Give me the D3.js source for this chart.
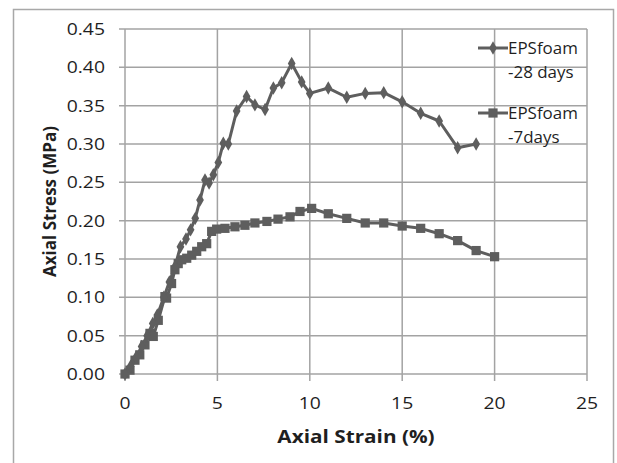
<!DOCTYPE html>
<head>
    <meta charset="utf-8">
    <style>
        body{
            margin:0;
            background:#fff;
        }
        text {
            font-family: "Open Sans", sans-serif;
            fill: #1f1f1f;
        }
    </style>
</head>
<body>
<svg width="617" height="463"></svg>
<script src="https://d3js.org/d3.v7.min.js"></script>
<script>

// strain (%) and stress (MPa)
var strain28 = [0, 0.3, 0.6, 0.9, 1.2, 1.5, 1.75, 2.1, 2.4, 2.7, 3.0, 3.3, 3.55, 3.8, 4.06, 4.33, 4.55, 4.78, 5.05, 5.32, 5.59, 6.04, 6.58, 7.03, 7.58, 8.03, 8.48, 9.02, 9.56, 10, 11, 12, 13, 14, 15, 16, 17, 18, 19];
var stress28 = [0, 0.01, 0.022, 0.036, 0.05, 0.066, 0.077, 0.1, 0.12, 0.14, 0.166, 0.176, 0.188, 0.203, 0.227, 0.253, 0.249, 0.26, 0.276, 0.301, 0.300, 0.343, 0.362, 0.351, 0.345, 0.373, 0.380, 0.405, 0.381, 0.366, 0.373, 0.361, 0.366, 0.367, 0.355, 0.340, 0.330, 0.295, 0.300];

var strain7 = [0, 0.27, 0.54, 0.8, 1.08, 1.35, 1.53, 1.8, 2.16, 2.25, 2.52, 2.7, 2.88, 3.07, 3.34, 3.61, 3.88, 4.15, 4.42, 4.69, 4.96, 5.41, 5.95, 6.49, 7.03, 7.68, 8.28, 8.93, 9.47, 10.1, 11, 12, 13, 14, 15, 16, 17, 18, 19, 20];
var stress7 = [0, 0.005, 0.018, 0.025, 0.038, 0.053, 0.049, 0.07, 0.101, 0.099, 0.118, 0.136, 0.144, 0.149, 0.151, 0.155, 0.160, 0.166, 0.170, 0.186, 0.189, 0.190, 0.192, 0.194, 0.197, 0.199, 0.202, 0.205, 0.212, 0.216, 0.209, 0.203, 0.197, 0.197, 0.193, 0.190, 0.183, 0.174, 0.161, 0.153];

var xTicks = [0, 5, 10, 15, 20, 25];
var yTicks = [0, 0.05, 0.10, 0.15, 0.20, 0.25, 0.30, 0.35, 0.40, 0.45];
var seriesNames = [["EPSfoam", "-28 days"], ["EPSfoam", "-7days"]];

var svg = d3.select("svg"),
    grey = "#a3a3a3",
    ink = "#5e5e5e";

// frame round the whole chart
svg.append("rect")
    .attr("x", 13.5).attr("y", 9.5)
    .attr("width", 600).attr("height", 470)
    .attr("fill", "#fff")
    .attr("stroke", "#a8a8a8")
    .attr("stroke-width", 1.5);

var x = d3.scaleLinear().domain([0, 25]).range([125, 587]);
var y = d3.scaleLinear().domain([0, 0.45]).range([374, 29]);

// the source picture is stretched sideways, so text gets a wider scale
function place(px, py, sx) {
  return "translate(" + px + "," + py + ")scale(" + sx + ",1)";
}

// grid
var grid = svg.append("g").attr("stroke", grey).attr("stroke-width", 1.5);
grid.selectAll(".h").data(yTicks).enter().append("line")
    .attr("x1", 119).attr("x2", x(25))
    .attr("y1", y).attr("y2", y);
grid.selectAll(".v").data(xTicks).enter().append("line")
    .attr("x1", x).attr("x2", x)
    .attr("y1", y(0.45)).attr("y2", 381);

// tick labels
svg.append("g").selectAll("text").data(yTicks).enter().append("text")
    .attr("transform", function(d) { return place(105, y(d), 1.14); })
    .attr("dy", "0.36em")
    .attr("text-anchor", "end")
    .attr("font-size", 17)
    .text(d3.format(".2f"));

svg.append("g").selectAll("text").data(xTicks).enter().append("text")
    .attr("transform", function(d) { return place(x(d), 409, 1.14); })
    .attr("text-anchor", "middle")
    .attr("font-size", 17)
    .text(function(d) { return d; });

// axis titles
svg.append("text")
    .attr("transform", place((x(0) + x(25)) / 2, 443, 1.22))
    .attr("text-anchor", "middle")
    .attr("font-size", 17)
    .attr("font-weight", "bold")
    .text("Axial Strain (%)");

svg.append("text")
    .attr("transform", "translate(56," + (y(0) + y(0.45)) / 2 + ")rotate(-90)")
    .attr("text-anchor", "middle")
    .attr("font-size", 17)
    .attr("font-weight", "bold")
    .text("Axial Stress (MPa)");

var line = d3.line()
    .x(function(d) { return x(d[0]); })
    .y(function(d) { return y(d[1]); });

var data28 = d3.zip(strain28, stress28),
    data7 = d3.zip(strain7, stress7);

var diamond = d3.symbol().type(d3.symbolDiamond).size(52),
    square = d3.symbol().type(d3.symbolSquare).size(85);

function drawSeries(data, sym) {
  var g = svg.append("g");
  g.append("path")
      .attr("d", line(data))
      .attr("fill", "none")
      .attr("stroke", ink)
      .attr("stroke-width", 3)
      .attr("stroke-linejoin", "round");
  g.selectAll("path.m").data(data).enter().append("path")
      .attr("class", "m")
      .attr("transform", function(d) { return "translate(" + x(d[0]) + "," + y(d[1]) + ")"; })
      .attr("d", sym)
      .attr("fill", ink);
}

drawSeries(data7, square);
drawSeries(data28, diamond);

// legend
var legend = svg.append("g").selectAll("g")
    .data(seriesNames)
    .enter().append("g")
      .attr("transform", function(d, i) { return "translate(0," + (48 + i * 65) + ")"; });

legend.append("line")
    .attr("x1", 478).attr("x2", 508)
    .attr("stroke", ink).attr("stroke-width", 3);

legend.append("path")
    .attr("transform", "translate(493,0)")
    .attr("d", function(d, i) { return i === 0 ? diamond() : square(); })
    .attr("fill", ink);

legend.append("text")
    .attr("transform", place(508, 6, 1.06))
    .attr("font-size", 16)
    .text(function(d) { return d[0]; });

legend.append("text")
    .attr("transform", place(508, 30, 1.06))
    .attr("font-size", 16)
    .text(function(d) { return d[1]; });

</script>
</body>
